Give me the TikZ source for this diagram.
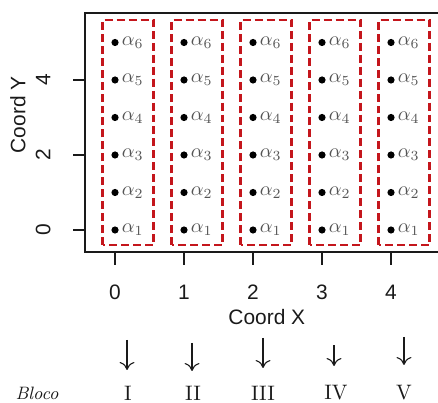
\documentclass[tikz,border=0pt]{standalone}
\usepackage{fontspec}
\newfontfamily\axisfont{Liberation Sans}
\usetikzlibrary{arrows.meta}
\definecolor{blocoInk}{HTML}{1A1A1A}
\definecolor{blocoRed}{HTML}{C4161C}
\definecolor{blocoGray}{HTML}{555555}
\tikzset{
  bloco axis/.style={draw=blocoInk, line width=0.6pt},
  bloco tick/.style={draw=blocoInk, line width=0.6pt},
  bloco ticklabel/.style={font=\axisfont\fontsize{10.5}{12}\selectfont,
    text=blocoInk, inner sep=0pt},
  bloco frame/.style={draw=blocoRed, line width=1.3pt,
    dash pattern=on 4pt off 2pt},
  bloco dot/.style={circle, fill=black, inner sep=0pt, minimum size=3.6pt},
  bloco alpha/.style={text=blocoGray, font=\normalsize, inner sep=0pt, anchor=west},
  bloco arrow/.style={-{Computer Modern Rightarrow[length=4pt,width=7.5pt]},
    draw=blocoInk, line width=0.55pt},
  bloco name/.style={font=\fontsize{10.5}{12}\selectfont, text=blocoInk, inner sep=0pt}
}
\begin{document}
\begin{tikzpicture}[x=1.2171cm,y=0.6615cm]
  \useasboundingbox (-1.667,-4.613) rectangle (4.681,6.133);
  \draw[bloco axis] (-0.435,-0.587) rectangle (4.75,5.787);
  % axes
  \foreach \i in {0,...,4} {
    \draw[bloco tick] (\i,-0.587) -- (\i,-0.933);
    \node[bloco ticklabel] (xl\i) at (\i,-1.653) {\i};
  }
  \foreach \j in {0,2,4} {
    \draw[bloco tick] (-0.435,\j) -- (-0.609,\j);
    \node[bloco ticklabel, rotate=90] (yl\j) at (-1.043,\j) {\j};
  }
  \node[bloco ticklabel] (xname) at (2.2,-2.32) {Coord X};
  \node[bloco ticklabel, rotate=90] (yname) at (-1.406,3.07) {Coord Y};
  % blocks of points
  \foreach \i in {0,...,4} {
    \draw[bloco frame] (\i-0.18,-0.4) rectangle (\i+0.56,5.6);
    \foreach \j in {1,...,6} {
      \node[bloco dot] (d\i\j) at (\i,\j-1) {};
      \node[bloco alpha] (a\i\j) at ([xshift=1.2pt]d\i\j.east) {$\alpha_{\j}$};
    }
  }
  % block names
  \foreach \n/\x/\ya/\yb/\lx in {I/0.174/-2.933/-3.733/0.188,
      II/1.116/-3.013/-3.76/1.13, III/2.145/-2.88/-3.68/2.145,
      IV/3.174/-3.067/-3.627/3.203, V/4.188/-2.853/-3.6/4.188} {
    \coordinate (s\n) at (\x,\ya);
    \coordinate (e\n) at (\x,\yb);
    \draw[bloco arrow] (s\n) -- (e\n);
    \node[bloco name] (b\n) at (\lx,-4.347) {\n};
  }
  \node[bloco name, font=\fontsize{9}{11}\selectfont\itshape] (bloco) at (-1.13,-4.347) {Bloco};
\end{tikzpicture}
\end{document}
